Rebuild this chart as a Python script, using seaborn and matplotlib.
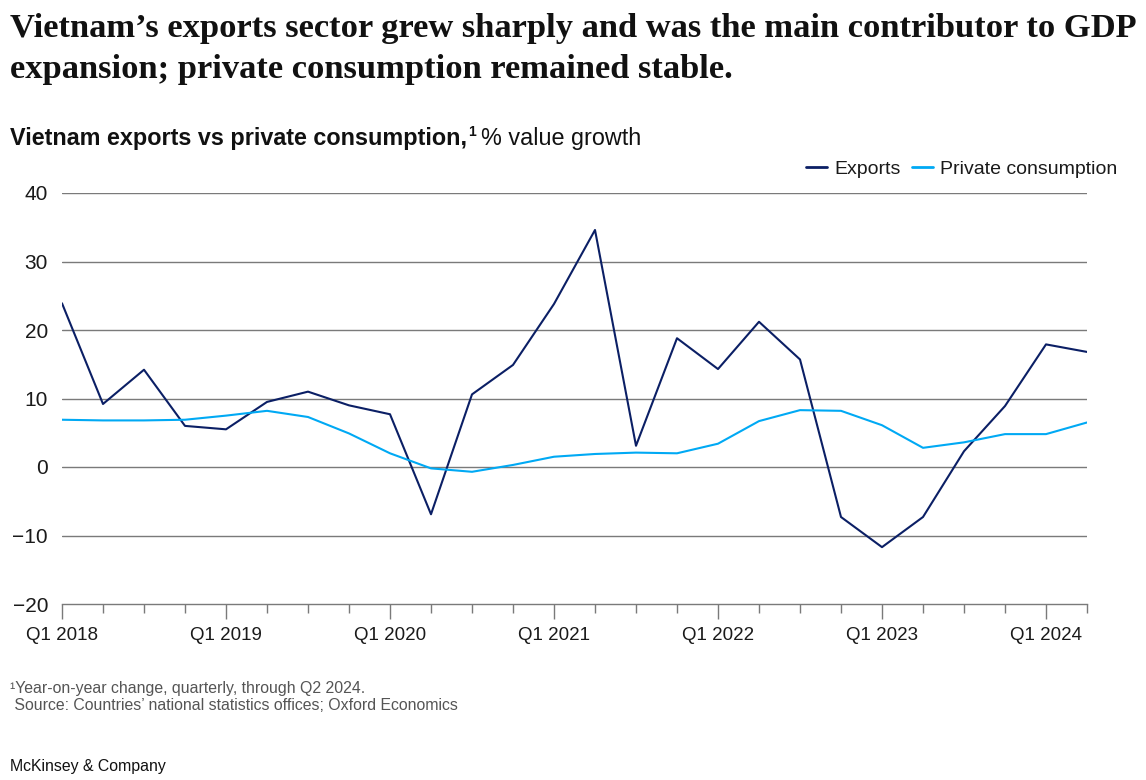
import seaborn as sns
import matplotlib.pyplot as plt
import pandas as pd
from matplotlib.lines import Line2D

quarters = [f"Q{q} {y}" for y in range(2018, 2025) for q in range(1, 5)][:26]

exports = [23.9, 9.2, 14.2, 6.0, 5.5, 9.5, 11.0, 9.0, 7.7, -6.9,
           10.6, 14.9, 23.8, 34.6, 3.1, 18.8, 14.3, 21.2, 15.7, -7.3,
           -11.7, -7.3, 2.3, 8.9, 17.9, 16.8]
private_consumption = [6.9, 6.8, 6.8, 6.9, 7.5, 8.2, 7.3, 4.9, 2.0, -0.2,
                       -0.7, 0.3, 1.5, 1.9, 2.1, 2.0, 3.4, 6.7, 8.3, 8.2,
                       6.1, 2.8, 3.6, 4.8, 4.8, 6.5]
series_names = ["Exports", "Private consumption"]
colors = ["#0b1f65", "#00a9f4"]
y_ticks = [-20, -10, 0, 10, 20, 30, 40]

df = pd.DataFrame({
    "idx": list(range(len(quarters))) * 2,
    "value": exports + private_consumption,
    "series": [series_names[0]] * len(exports) + [series_names[1]] * len(private_consumption),
})

sns.set_theme(style="white")
plt.rcParams["font.family"] = ["Liberation Sans", "DejaVu Sans"]

fig = plt.figure(figsize=(11.46, 7.8), dpi=100)
ax = fig.add_axes([62 / 1146, 1 - 604 / 780, (1087 - 62) / 1146, (604 - 193) / 780])

sns.lineplot(data=df, x="idx", y="value", hue="series", palette=colors,
             linewidth=1.5, ax=ax, legend=False)

ax.set_xlim(0, len(quarters) - 1)
ax.set_ylim(-20, 40)
ax.set_xlabel("")
ax.set_ylabel("")

# gridlines
for v in y_ticks[1:]:
    ax.axhline(v, color="#7a7a7a", linewidth=1.0, zorder=0)

for s in ["top", "right", "left"]:
    ax.spines[s].set_visible(False)
ax.spines["bottom"].set_color("#7a7a7a")
ax.spines["bottom"].set_linewidth(1.0)

major = [i for i, q in enumerate(quarters) if q.startswith("Q1")]
minor = [i for i, q in enumerate(quarters) if not q.startswith("Q1")]
ax.set_xticks(major)
ax.set_xticklabels([quarters[i] for i in major])
ax.set_xticks(minor, minor=True)
ax.tick_params(axis="x", which="major", direction="out", length=10.8, width=1.0,
               color="#7a7a7a", labelsize=13.5, pad=6, labelcolor="#1a1a1a", bottom=True)
ax.tick_params(axis="x", which="minor", direction="out", length=6.5, width=1.0,
               color="#7a7a7a", bottom=True)

ax.set_yticks(y_ticks)
ax.set_yticklabels([f"\u2212{abs(v)}" if v < 0 else str(v) for v in y_ticks])
ax.tick_params(axis="y", length=0, labelsize=15, pad=10, labelcolor="#1a1a1a")

# legend
handles = [Line2D([0], [0], color=c, linewidth=2) for c in colors]
fig.legend(handles, series_names, loc="center right",
           bbox_to_anchor=(1135 / 1146, 1 - 169 / 780), ncol=2, frameon=False,
           fontsize=14, handlelength=1.1, handletextpad=0.35, columnspacing=0.6,
           labelcolor="#1a1a1a")

# title
fig.text(10 / 1146, 1 - 13 / 780,
         "Vietnam\u2019s exports sector grew sharply and was the main contributor to GDP\n"
         "expansion; private consumption remained stable.",
         family=["Liberation Serif", "DejaVu Serif"], fontweight="bold", fontsize=24.8,
         va="top", ha="left", linespacing=1.4, color="#111111")

# subtitle: bold part + superscript + regular part
fig.canvas.draw()
renderer = fig.canvas.get_renderer()
t1 = fig.text(10 / 1146, 1 - 139 / 780, "Vietnam exports vs private consumption,",
              fontweight="bold", fontsize=16.8, va="center", ha="left", color="#111111")
bb = t1.get_window_extent(renderer=renderer)
x1 = bb.x1 / fig.bbox.width
t2 = fig.text(x1 + 1 / 1146, 1 - 132 / 780, "1", fontweight="bold", fontsize=10,
              va="center", ha="left", color="#111111")
bb2 = t2.get_window_extent(renderer=renderer)
fig.text(bb2.x1 / fig.bbox.width + 5 / 1146, 1 - 139 / 780, "% value growth",
         fontsize=16.8, va="center", ha="left", color="#111111")

# footnotes
fig.text(10 / 1146, 1 - 688 / 780, "\u00b9Year-on-year change, quarterly, through Q2 2024.",
         fontsize=11.4, va="center", ha="left", color="#555555")
fig.text(10 / 1146, 1 - 706 / 780, " Source: Countries\u2019 national statistics offices; Oxford Economics",
         fontsize=11.4, va="center", ha="left", color="#555555")
fig.text(10 / 1146, 1 - 767 / 780, "McKinsey & Company",
         fontsize=11.4, va="center", ha="left", color="#111111")

fig.savefig("out.png", dpi=100, facecolor="white")
